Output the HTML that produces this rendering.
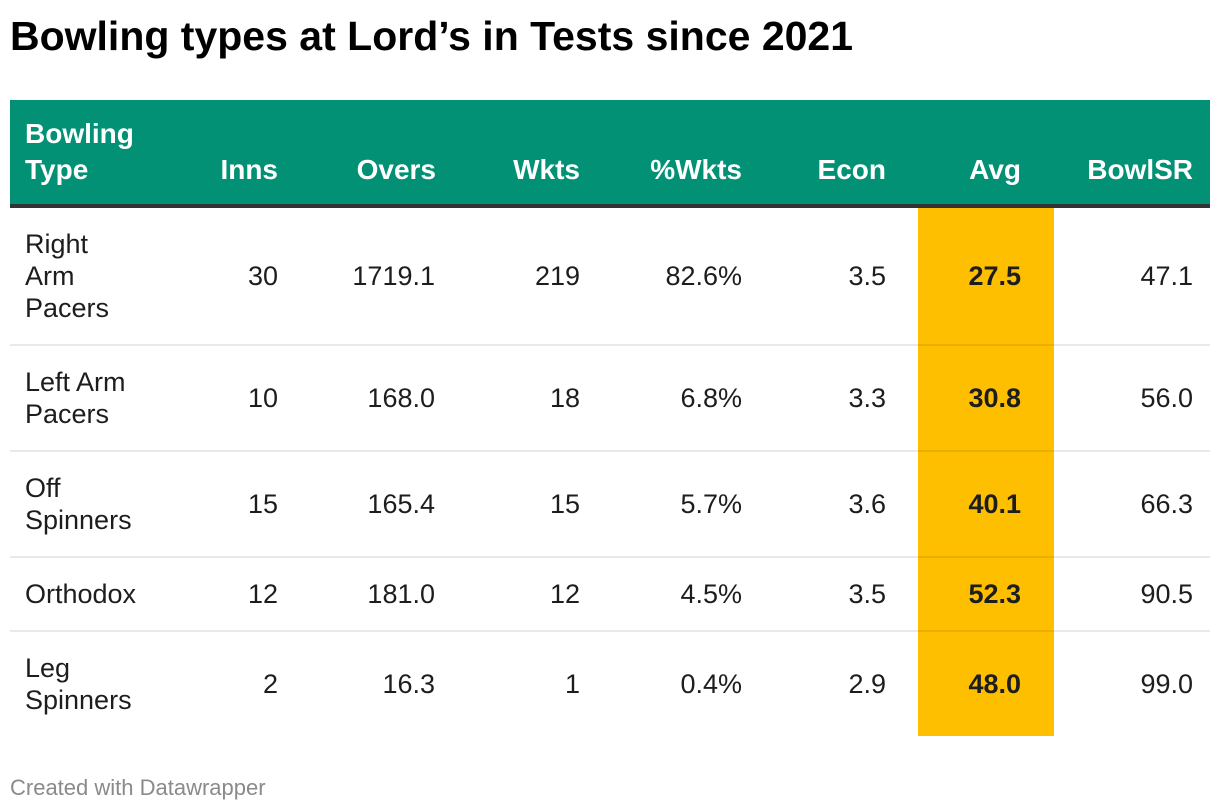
<!DOCTYPE html>
<html>
<head>
<meta charset="utf-8">
<style>
  html,body{margin:0;padding:0;}
  body{width:1220px;height:812px;position:relative;background:#fff;overflow:hidden;
       font-family:"Liberation Sans",Arial,sans-serif;color:#1d1d1d;}
  .abs{position:absolute;}
  .title{left:10px;top:12px;font-size:41px;line-height:48px;font-weight:bold;color:#000;white-space:nowrap;}
  .hdr{left:10px;top:100px;width:1200px;height:104px;background:#029174;}
  .hbor{left:10px;top:204px;width:1200px;height:4px;background:#333;}
  .yel{left:918px;top:208px;width:136px;height:528px;background:#febf00;}
  .sep{left:10px;width:1200px;height:2px;background:rgba(0,0,0,0.085);}
  .h{font-size:28px;line-height:36px;font-weight:bold;color:#fff;white-space:nowrap;top:152px;}
  .hr{text-align:right;}
  .row{left:0;width:1220px;}
  .c{position:absolute;top:0;bottom:0;display:flex;align-items:center;font-size:27px;line-height:32px;white-space:nowrap;}
  .c.r{justify-content:flex-end;text-align:right;}
  .c.l{left:25px;}
  .b{font-weight:bold;}
  .foot{left:10px;top:776px;font-size:22px;line-height:24px;color:#8a8a8a;white-space:nowrap;}
</style>
</head>
<body>
<div class="abs title">Bowling types at Lord’s in Tests since 2021</div>

<div class="abs hdr"></div>
<div class="abs yel"></div>
<div class="abs hbor"></div>

<div class="abs h" style="left:25px;top:116px;">Bowling<br>Type</div>
<div class="abs h hr" style="right:942px;">Inns</div>
<div class="abs h hr" style="right:784px;">Overs</div>
<div class="abs h hr" style="right:640px;">Wkts</div>
<div class="abs h hr" style="right:478px;">%Wkts</div>
<div class="abs h hr" style="right:334px;">Econ</div>
<div class="abs h hr" style="right:199px;">Avg</div>
<div class="abs h hr" style="right:27px;">BowlSR</div>

<div class="abs sep" style="top:344px;"></div>
<div class="abs sep" style="top:450px;"></div>
<div class="abs sep" style="top:556px;"></div>
<div class="abs sep" style="top:630px;"></div>

<!-- Row 1 -->
<div class="abs row" style="top:208px;height:136px;">
  <div class="c l">Right<br>Arm<br>Pacers</div>
  <div class="c r" style="right:942px;">30</div>
  <div class="c r" style="right:785px;">1719.1</div>
  <div class="c r" style="right:640px;">219</div>
  <div class="c r" style="right:478px;">82.6%</div>
  <div class="c r" style="right:334px;">3.5</div>
  <div class="c r b" style="right:199px;">27.5</div>
  <div class="c r" style="right:27px;">47.1</div>
</div>

<!-- Row 2 -->
<div class="abs row" style="top:346px;height:104px;">
  <div class="c l">Left Arm<br>Pacers</div>
  <div class="c r" style="right:942px;">10</div>
  <div class="c r" style="right:785px;">168.0</div>
  <div class="c r" style="right:640px;">18</div>
  <div class="c r" style="right:478px;">6.8%</div>
  <div class="c r" style="right:334px;">3.3</div>
  <div class="c r b" style="right:199px;">30.8</div>
  <div class="c r" style="right:27px;">56.0</div>
</div>

<!-- Row 3 -->
<div class="abs row" style="top:452px;height:104px;">
  <div class="c l">Off<br>Spinners</div>
  <div class="c r" style="right:942px;">15</div>
  <div class="c r" style="right:785px;">165.4</div>
  <div class="c r" style="right:640px;">15</div>
  <div class="c r" style="right:478px;">5.7%</div>
  <div class="c r" style="right:334px;">3.6</div>
  <div class="c r b" style="right:199px;">40.1</div>
  <div class="c r" style="right:27px;">66.3</div>
</div>

<!-- Row 4 -->
<div class="abs row" style="top:558px;height:72px;">
  <div class="c l">Orthodox</div>
  <div class="c r" style="right:942px;">12</div>
  <div class="c r" style="right:785px;">181.0</div>
  <div class="c r" style="right:640px;">12</div>
  <div class="c r" style="right:478px;">4.5%</div>
  <div class="c r" style="right:334px;">3.5</div>
  <div class="c r b" style="right:199px;">52.3</div>
  <div class="c r" style="right:27px;">90.5</div>
</div>

<!-- Row 5 -->
<div class="abs row" style="top:632px;height:104px;">
  <div class="c l">Leg<br>Spinners</div>
  <div class="c r" style="right:942px;">2</div>
  <div class="c r" style="right:785px;">16.3</div>
  <div class="c r" style="right:640px;">1</div>
  <div class="c r" style="right:478px;">0.4%</div>
  <div class="c r" style="right:334px;">2.9</div>
  <div class="c r b" style="right:199px;">48.0</div>
  <div class="c r" style="right:27px;">99.0</div>
</div>

<div class="abs foot">Created with Datawrapper</div>
</body>
</html>
